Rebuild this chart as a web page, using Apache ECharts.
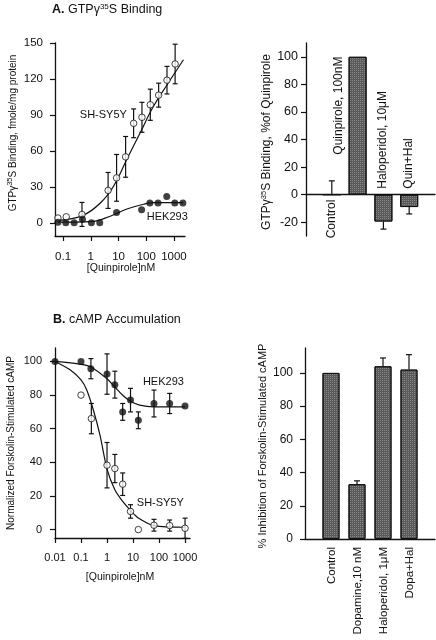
<!DOCTYPE html>
<html><head><meta charset="utf-8">
<script src="https://cdn.jsdelivr.net/npm/echarts@6/dist/echarts.min.js"></script>
<style>html,body{margin:0;padding:0;background:#fff}#c{width:436px;height:640px}</style>
</head><body><div id="c"></div>
<script>
// ---------- Panel A (left): GTPγ35S binding vs [Quinpirole] ----------
const aShX = [0.065, 0.13, 0.48, 4.2, 8.5, 18, 35, 70, 140, 280, 560, 1100];
const aShY = [4, 5, 7, 27, 37.5, 55, 83, 88, 98.5, 106.5, 119, 132.5];
const aShErr = [0, 0, 10, 15, 19.5, 17, 12, 12.5, 13, 10, 11.5, 16.5];
const aHekX = [0.065, 0.125, 0.25, 0.5, 1.05, 2.1, 8.5, 68, 135, 265, 550, 1070, 2100];
const aHekY = [0.5, 0, 0, 3, 0, 0, 8.5, 11, 16.5, 16.5, 22, 16.5, 16.5];
const aShCurveX = [0.065, 0.5, 2.2, 6.6, 20, 60, 180, 560, 2200];
const aShCurveY = [2, 6, 16.5, 30.5, 53, 75, 97, 115, 136];
const aHekCurveX = [0.065, 1, 5, 20, 80, 180, 2200];
const aHekCurveY = [0.5, 1, 5.5, 11.5, 15.5, 16.8, 16.8];
const aYTicks = [0, 30, 60, 90, 120, 150];

// ---------- Panel A (right): % of quinpirole ----------
const aBarNames = ['Control', 'Quinpirole, 100nM', 'Haloperidol, 10μM', 'Quin+Hal'];
const aBarVals = [0, 100, -19.5, -9];
const aBarErr = [10, 0, -5.5, -5];
const aBarYTicks = [-20, 0, 20, 40, 60, 80, 100];

// ---------- Panel B (left): cAMP accumulation ----------
const bHekX = [0.01, 0.1, 0.24, 1, 2, 4, 8, 16, 64, 256, 1000];
const bHekY = [100, 100, 95.7, 92.5, 86.2, 70, 77, 65, 75, 75, 73.5];
const bHekErr = [0, 0, 6, 12, 8, 5, 7, 5, 8, 6, 0];
const bShX = [0.1, 0.25, 1, 2, 4, 8, 16, 64, 256, 1000];
const bShY = [80, 66, 38.3, 36.3, 27, 10.8, 0, 2.6, 2.4, 0.8];
const bShErr = [0, 9, 13.5, 8.4, 6.7, 4, 0, 3.5, 3.3, 6];
const bHekCurveX = [0.01, 0.1, 0.25, 1, 2, 4, 8, 18, 64, 1000];
const bHekCurveY = [100, 98.3, 96.6, 89.7, 84.8, 79.9, 76.3, 74, 73, 73];
const bShCurveX = [0.01, 0.038, 0.1, 0.166, 0.3, 0.54, 1, 2, 4, 8, 16, 64, 1000];
const bShCurveY = [100, 95, 89, 83, 71, 56, 36, 23.7, 16.8, 11.4, 6.9, 2.4, 1.4];
const bYTicks = [0, 20, 40, 60, 80, 100];

// ---------- Panel B (right): % inhibition ----------
const bBarNames = ['Control', 'Dopamine,10 nM', 'Haloperidol, 1μM', 'Dopa+Hal'];
const bBarVals = [100, 33, 104, 102];
const bBarErr = [0, 2, 5, 9];
const bBarYTicks = [0, 20, 40, 60, 80, 100];

const FONT = 'Liberation Sans, Arial, sans-serif';
const INK = '#111';

function pairs(xs, ys) { return xs.map((x, i) => [x, ys[i]]); }
function errData(xs, ys, es) { return xs.map((x, i) => [x, ys[i], es[i]]).filter(d => d[2] !== 0); }

function errSeries(xi, yi, data, cap, twoSided) {
  return {
    type: 'custom', xAxisIndex: xi, yAxisIndex: yi, data: data, z: 3, silent: true,
    renderItem: function (params, api) {
      const x = api.value(0), y = api.value(1), e = api.value(2);
      const lo = twoSided ? api.coord([x, y - e]) : api.coord([x, y]);
      const hi = api.coord([x, y + e]);
      const children = [
        { type: 'line', shape: { x1: lo[0], y1: lo[1], x2: hi[0], y2: hi[1] }, style: { stroke: INK, lineWidth: 1.2 } },
        { type: 'line', shape: { x1: hi[0] - cap, y1: hi[1], x2: hi[0] + cap, y2: hi[1] }, style: { stroke: INK, lineWidth: 1.2 } }
      ];
      if (twoSided) children.push({ type: 'line', shape: { x1: lo[0] - cap, y1: lo[1], x2: lo[0] + cap, y2: lo[1] }, style: { stroke: INK, lineWidth: 1.2 } });
      return { type: 'group', children: children };
    }
  };
}

function textSeries(xi, yi, data, opts) {
  return {
    type: 'custom', xAxisIndex: xi, yAxisIndex: yi, data: data, z: 5, silent: true,
    renderItem: function (params, api) {
      const p = api.coord([api.value(0), api.value(1)]);
      const t = data[params.dataIndex][2];
      return {
        type: 'text', x: p[0] + (opts.dx || 0), y: p[1] + (opts.dy || 0), rotation: opts.rot || 0,
        style: { text: t, fill: INK, font: opts.font, align: opts.align || 'left', verticalAlign: 'middle' }
      };
    }
  };
}

const logX = (gi, min, max, fs, showMin, margin) => ({
  type: 'log', logBase: 10, gridIndex: gi, min: min, max: max,
  axisLine: { show: true, onZero: false, lineStyle: { color: INK, width: 1.3 } },
  axisTick: { show: true, length: 5, inside: false, lineStyle: { color: INK, width: 1.2 } },
  minorTick: { show: false },
  splitLine: { show: false },
  axisLabel: { color: INK, fontFamily: FONT, fontSize: fs, margin: margin, showMinLabel: showMin, showMaxLabel: false,
    formatter: v => String(+v.toPrecision(6)) }
});

const valY = (gi, min, max, ticks, fs, margin) => ({
  type: 'value', gridIndex: gi, min: min, max: max,
  axisLine: { show: true, onZero: true, lineStyle: { color: INK, width: 1.3 } },
  axisTick: { show: true, length: 5, customValues: ticks, lineStyle: { color: INK, width: 1.2 } },
  axisLabel: { color: INK, fontFamily: FONT, fontSize: fs, margin: margin, customValues: ticks },
  splitLine: { show: false }
});

const catX = (gi) => ({
  type: 'value', gridIndex: gi, min: 0, max: 5,
  axisLine: { show: true, onZero: true, lineStyle: { color: INK, width: 1.3 } },
  axisTick: { show: false }, axisLabel: { show: false }, splitLine: { show: false }
});

const barDecal = { symbol: 'rect', symbolSize: 1, color: 'rgba(255,255,255,0.28)', dashArrayX: [1, 1], dashArrayY: [1, 1] };
const barIdx = [1, 2, 3, 4];

const chart = echarts.init(document.getElementById('c'), null, { renderer: 'canvas' });
const sup = { sup: { fontSize: 7.5, verticalAlign: 'top', padding: [0, 0, 6, 0], fontFamily: FONT, fill: INK } };

chart.setOption({
  animation: false,
  backgroundColor: '#fff',
  grid: [
    { left: 55, top: 43, width: 130, height: 193 },
    { left: 306, top: 43, width: 129, height: 193 },
    { left: 55, top: 348, width: 135, height: 190 },
    { left: 305, top: 348, width: 130, height: 191 }
  ],
  xAxis: [
    logX(0, 0.051, 2500, 11.5, false, 15),
    catX(1),
    logX(2, 0.01, 1550, 11, true, 14),
    catX(3)
  ],
  yAxis: [
    valY(0, -11, 150, aYTicks, 11.5, 12),
    valY(1, -30, 110, aBarYTicks, 12.5, 8),
    valY(2, -5, 108, bYTicks, 11, 13),
    valY(3, 0, 115, bBarYTicks, 12, 12)
  ],
  graphic: [
    { type: 'text', x: 52, y: 10, style: { text: '{b|A.} GTPγ{s|35}S Binding', font: '12.5px ' + FONT, fill: INK, verticalAlign: 'middle',
      rich: { b: { fontWeight: 'bold', fontSize: 12.5, fontFamily: FONT }, s: { fontSize: 8, verticalAlign: 'top', padding: [0, 0, 6, 0], fontFamily: FONT } } } },
    { type: 'text', x: 53, y: 320, style: { text: '{b|B.} cAMP Accumulation', font: '12.5px ' + FONT, fill: INK, verticalAlign: 'middle',
      rich: { b: { fontWeight: 'bold', fontSize: 12.5, fontFamily: FONT } } } },
    { type: 'text', x: 13, y: 133, rotation: Math.PI / 2, style: { text: 'GTPγ{sup|35}S Binding, fmole/mg protein', font: '10px ' + FONT, fill: INK, align: 'center', verticalAlign: 'middle', rich: sup } },
    { type: 'text', x: 267, y: 142, rotation: Math.PI / 2, style: { text: 'GTPγ{sup|35}S Binding, %of Quinpirole', font: '12px ' + FONT, fill: INK, align: 'center', verticalAlign: 'middle', rich: sup } },
    { type: 'text', x: 11, y: 443, rotation: Math.PI / 2, style: { text: 'Normalized Forskolin-Stimulated cAMP', font: '10px ' + FONT, fill: INK, align: 'center', verticalAlign: 'middle' } },
    { type: 'text', x: 263, y: 446, rotation: Math.PI / 2, style: { text: '% Inhibition of Forskolin-Stimulated cAMP', font: '11px ' + FONT, fill: INK, align: 'center', verticalAlign: 'middle' } },
    { type: 'text', x: 121, y: 268, style: { text: '[Quinpirole]nM', font: '10.5px ' + FONT, fill: INK, align: 'center', verticalAlign: 'middle' } },
    { type: 'text', x: 120, y: 577, style: { text: '[Quinpirole]nM', font: '10.5px ' + FONT, fill: INK, align: 'center', verticalAlign: 'middle' } }
  ],
  series: [
    // ---- A left
    { type: 'line', xAxisIndex: 0, yAxisIndex: 0, data: pairs(aShCurveX, aShCurveY), smooth: 0.4, symbol: 'none', lineStyle: { color: INK, width: 1.2 }, z: 2 },
    { type: 'line', xAxisIndex: 0, yAxisIndex: 0, data: pairs(aHekCurveX, aHekCurveY), smooth: 0.4, symbol: 'none', lineStyle: { color: INK, width: 1.2 }, z: 2 },
    errSeries(0, 0, errData(aShX, aShY, aShErr), 2.5, true),
    { type: 'scatter', xAxisIndex: 0, yAxisIndex: 0, data: pairs(aShX, aShY), symbol: 'circle', symbolSize: 6.5, itemStyle: { color: '#fff', borderColor: INK, borderWidth: 1 }, z: 4 },
    { type: 'scatter', xAxisIndex: 0, yAxisIndex: 0, data: pairs(aHekX, aHekY), symbol: 'circle', symbolSize: 7, itemStyle: { color: INK }, z: 4 },
    textSeries(0, 0, [[0.4, 90, 'SH-SY5Y'], [105, 5, 'HEK293']], { font: '11px ' + FONT }),
    // ---- A right
    { type: 'bar', xAxisIndex: 1, yAxisIndex: 1, data: pairs(barIdx, aBarVals), barWidth: 18,
      itemStyle: { color: '#5a5a5a', borderColor: INK, borderWidth: 1, decal: barDecal }, z: 2 },
    errSeries(1, 1, errData(barIdx, aBarVals, aBarErr), 3, false),
    textSeries(1, 1, [[1, 0, aBarNames[0]]], { font: '12px ' + FONT, rot: Math.PI / 2, align: 'right', dy: 5 }),
    textSeries(1, 1, [[2, 0, aBarNames[1]]], { font: '12px ' + FONT, rot: Math.PI / 2, align: 'left', dx: -19, dy: -40 }),
    textSeries(1, 1, [[3, 0, aBarNames[2]], [4, 0, aBarNames[3]]], { font: '12px ' + FONT, rot: Math.PI / 2, align: 'left', dx: -1, dy: -6 }),
    // ---- B left
    { type: 'line', xAxisIndex: 2, yAxisIndex: 2, data: pairs(bHekCurveX, bHekCurveY), smooth: 0.3, symbol: 'none', lineStyle: { color: INK, width: 1.2 }, z: 2 },
    { type: 'line', xAxisIndex: 2, yAxisIndex: 2, data: pairs(bShCurveX, bShCurveY), smooth: 0.3, symbol: 'none', lineStyle: { color: INK, width: 1.2 }, z: 2 },
    errSeries(2, 2, errData(bHekX, bHekY, bHekErr), 2.5, true),
    errSeries(2, 2, errData(bShX, bShY, bShErr), 2.5, true),
    { type: 'scatter', xAxisIndex: 2, yAxisIndex: 2, data: pairs(bShX, bShY), symbol: 'circle', symbolSize: 6.5, itemStyle: { color: '#fff', borderColor: INK, borderWidth: 1 }, z: 4 },
    { type: 'scatter', xAxisIndex: 2, yAxisIndex: 2, data: pairs(bHekX, bHekY), symbol: 'circle', symbolSize: 7, itemStyle: { color: INK }, z: 4 },
    textSeries(2, 2, [[24, 88, 'HEK293'], [14, 16, 'SH-SY5Y']], { font: '11px ' + FONT }),
    // ---- B right
    { type: 'bar', xAxisIndex: 3, yAxisIndex: 3, data: pairs(barIdx, bBarVals), barWidth: 17,
      itemStyle: { color: '#5a5a5a', borderColor: INK, borderWidth: 1, decal: barDecal }, z: 2 },
    errSeries(3, 3, errData(barIdx, bBarVals, bBarErr), 3, false),
    textSeries(3, 3, bBarNames.map((n, i) => [barIdx[i], 0, n]), { font: '11.5px ' + FONT, rot: Math.PI / 2, align: 'right', dx: 1, dy: 8 })
  ]
});
</script></body></html>
